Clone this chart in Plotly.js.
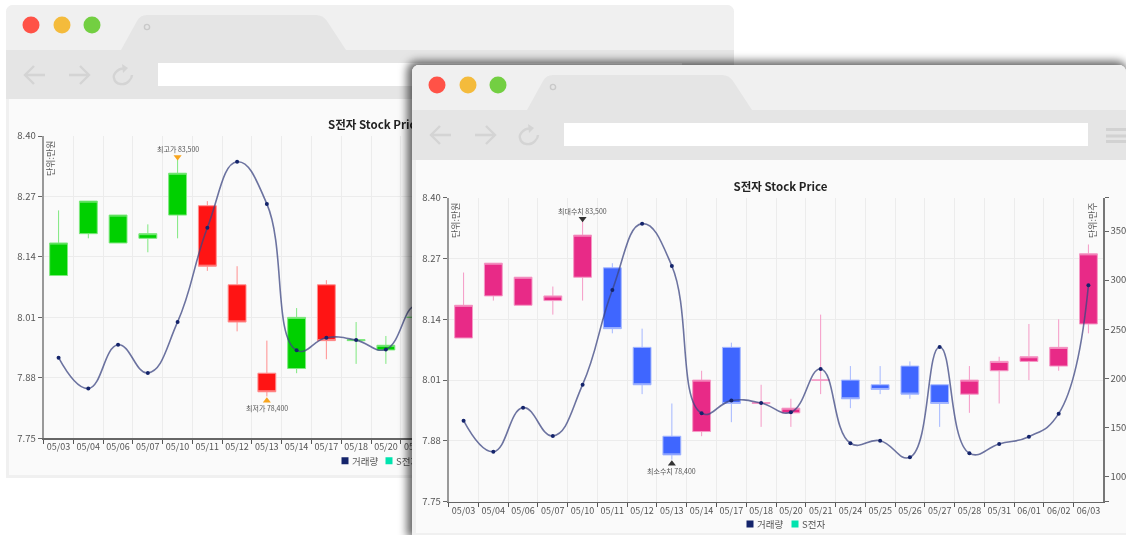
<!DOCTYPE html>
<html>
<head>
<meta charset="utf-8">
<script src="https://cdn.plot.ly/plotly-3.0.1.min.js"></script>
<style>
html,body{margin:0;padding:0;background:#fff;width:1126px;height:535px;overflow:hidden}
#back,#front{position:absolute;overflow:hidden;border-radius:7px 7px 0 0;filter:blur(0.35px)}
#back{left:6px;top:5px;width:728px;height:473px}
#front{left:412px;top:65px;width:714px;height:470px;box-shadow:-2px -1px 9px 3px rgba(0,0,0,.6)}
</style>
</head>
<body>
<div id="back"></div>
<div id="front"></div>
<script>
const categories=['05/03','05/04','05/06','05/07','05/10','05/11','05/12','05/13','05/14','05/17','05/18','05/20','05/21','05/24','05/25','05/26','05/27','05/28','05/31','06/01','06/02','06/03'];
const openPrice =[8.10,8.19,8.17,8.18,8.23,8.25,8.08,7.89,7.90,8.08,7.96,7.94,8.01,8.01,8.00,8.04,8.00,7.98,8.03,8.05,8.04,8.13];
const closePrice=[8.17,8.26,8.23,8.19,8.32,8.12,8.00,7.85,8.01,7.96,7.962,7.95,8.01,7.97,7.99,7.98,7.96,8.01,8.05,8.06,8.08,8.28];
const highPrice =[8.24,8.26,8.23,8.21,8.35,8.26,8.12,7.96,8.03,8.09,8.00,7.97,8.15,8.04,8.04,8.05,8.00,8.04,8.06,8.13,8.14,8.30];
const lowPrice  =[8.10,8.18,8.17,8.15,8.18,8.11,7.98,7.84,7.89,7.92,7.91,7.91,7.98,7.95,7.98,7.97,7.91,7.94,7.96,8.01,8.03,8.11];
const volume=[1570,1254,1702,1414,1936,2900,3575,3144,1645,1774,1750,1655,2096,1340,1366,1197,2320,1238,1333,1407,1641,2948];
const priceTicks=[7.75,7.88,8.01,8.14,8.27,8.40];
const priceRange=[7.75,8.40];
const volumeRange=[745,3839];
const volumeTicks=[745,1000,1500,2000,2500,3000,3500,3839];
const volumeTickText=['','1000','1500','2000','2500','3000','3500',''];
const peak={x:'05/10',mark:8.355,label:8.372,value:'83,500'};
const trough={x:'05/13',mark:7.831,label:7.815,value:'78,400'};

const FONT='"Noto Sans CJK KR","Noto Sans",sans-serif';
const TXT='#555';

function chrome(W,H,c){
  const px=x=>x/W, py=y=>1-y/H;
  const fillRect=(x0,y0,x1,y1,col)=>({type:'rect',xref:'paper',yref:'paper',layer:'below',x0:px(x0),x1:px(x1),y0:py(y0),y1:py(y1),fillcolor:col,line:{width:0}});
  const circle=(cx,cy,r,col,lc,lw)=>({type:'circle',xref:'paper',yref:'paper',layer:'below',x0:px(cx-r),x1:px(cx+r),y0:py(cy+r),y1:py(cy-r),fillcolor:col,line:{color:lc||col,width:lw||0}});
  const path=(pts,col,lw,fill)=>({type:'path',xref:'paper',yref:'paper',layer:'below',
     path:pts.map(p=>typeof p==='string'?p:px(p[0])+','+py(p[1])).join(' '),
     fillcolor:fill||'rgba(0,0,0,0)',line:{color:col,width:lw}});
  const s=[];
  s.push(fillRect(0,0,W,c.barH,'#f0f0f0'));
  s.push(fillRect(0,c.barH,W,c.toolB,'#e5e5e5'));
  s.push(fillRect(c.cL,c.toolB,W-(c.cR||0),c.cB,'#fafafa'));
  // tab
  s.push(path(['M',[115,c.barH],'L',[131,16],'Q',[134,10],[141,10],'L',[310,10],'Q',[317,10],[321,16],'L',[340,c.barH],'Z'],'#e5e5e5',0,'#e5e5e5'));
  s.push(circle(141,c.tabDotY,2.6,'#e5e5e5','#c9c9c9',1.4));
  // traffic lights
  s.push(circle(25,20,8.5,'#ff5247'));
  s.push(circle(56,20,8.5,'#f4bb3c'));
  s.push(circle(86,20,8.5,'#73cf42'));
  // back / forward / reload
  const g='#d4d4d4',y=70;
  s.push(path(['M',[19,y],'L',[39,y],'M',[28,y-9],'L',[19,y],'L',[28,y+9]],g,2.4));
  s.push(path(['M',[63,y],'L',[83,y],'M',[74,y-9],'L',[83,y],'L',[74,y+9]],g,2.4));
  s.push(path(['M',[119,y-6.5],'C',[110,y-7],[107,y+1],[108,y+3],'C',[109,y+10],[119,y+11],[123,y+6],'C',[125,y+4],[126,y+2],[126,y]],g,2.4));
  s.push(path(['M',[116,y-11],'L',[122,y-7],'L',[117,y-2],'Z'],g,0,g));
  // url bar
  s.push(fillRect(152,58,676,81,'#ffffff'));
  // menu
  if(c.menu){[63,69.5,75].forEach(t=>s.push(fillRect(694,t,716,t+3,'#d2d2d2')));}
  // legend squares
  s.push(fillRect(c.lg1-3.5,c.lgY-3.5,c.lg1+3.5,c.lgY+3.5,'#14246b'));
  s.push(fillRect(c.lg2-3.5,c.lgY-3.5,c.lg2+3.5,c.lgY+3.5,'#00e3ae'));
  return s;
}

function draw(id,W,H,c){
  const px=x=>x/W, py=y=>1-y/H;
  const ydom=[py(c.pB),py(c.pT)];
  const traces=[
   {type:'candlestick',x:categories,open:openPrice,high:highPrice,low:lowPrice,close:closePrice,xaxis:'x',yaxis:'y',whiskerwidth:0,
    increasing:{line:{color:c.upLine,width:1},fillcolor:c.up},
    decreasing:{line:{color:c.downLine,width:1},fillcolor:c.down},showlegend:false,hoverinfo:'skip'},
   {type:'scatter',mode:'lines+markers',name:'거래량',x:categories,y:volume,xaxis:'x',yaxis:'y2',
    line:{shape:'spline',smoothing:1.3,color:'rgba(60,70,130,.75)',width:1.6},
    marker:{size:4,color:'#14246b'},showlegend:false,hoverinfo:'skip'},
   {type:'scatter',mode:'markers',x:[peak.x],y:[peak.mark],xaxis:'x',yaxis:'y',
    marker:{symbol:'triangle-down',size:7,color:c.tri},showlegend:false,hoverinfo:'skip'},
   {type:'scatter',mode:'markers',x:[trough.x],y:[trough.mark],xaxis:'x',yaxis:'y',
    marker:{symbol:'triangle-up',size:7,color:c.tri},showlegend:false,hoverinfo:'skip'}
  ];
  const note=(text,xr,yr,x,y,extra)=>Object.assign({text,xref:xr,yref:yr,x,y,showarrow:false,xanchor:'center',yanchor:'middle',font:{family:FONT,size:9.5,color:TXT}},extra||{});
  const annos=[
    note(c.hiText+' '+peak.value,'x','y',peak.x,peak.label,{font:{family:FONT,size:7,color:'#555'}}),
    note(c.loText+' '+trough.value,'x','y',trough.x,trough.label,{font:{family:FONT,size:7,color:'#555'}}),
    note('단위:만원','paper','paper',px(c.unitL),py(c.unitY),{textangle:-90,font:{family:FONT,size:9,color:TXT}}),
    note('단위:만주','paper','paper',px(c.unitR),py(c.unitY),{textangle:-90,font:{family:FONT,size:9,color:TXT}}),
    note('거래량','paper','paper',px(c.lg1+5),py(c.lgY),{xanchor:'left'}),
    note('S전자','paper','paper',px(c.lg2+5),py(c.lgY),{xanchor:'left'})
  ];
  const layout={
    width:W,height:H,margin:{l:0,r:0,t:0,b:0,pad:0},
    paper_bgcolor:'#f0f0f0',plot_bgcolor:'rgba(0,0,0,0)',
    font:{family:FONT,size:9,color:TXT},showlegend:false,boxgap:0.4,boxgroupgap:0,
    title:{text:'<b>S전자 Stock Price</b>',x:px(c.titleX),y:py(c.titleY),xanchor:'center',yanchor:'middle',xref:'paper',
           font:{family:FONT,size:11.5,color:'#222'}},
    xaxis:{type:'category',domain:[px(c.pL),px(c.pR)],anchor:'y',range:[-0.5,categories.length-0.5],categoryorder:'array',categoryarray:categories,
      tickson:'boundaries',ticks:'outside',ticklen:4,tickcolor:'#555',tickwidth:1,showline:true,linecolor:'#666',linewidth:1.2,
      showgrid:true,gridcolor:'#ececec',gridwidth:1,rangeslider:{visible:false},tickfont:{family:FONT,size:9,color:TXT},fixedrange:true,tickangle:0,automargin:false},
    yaxis:{domain:ydom,anchor:'x',range:priceRange,tickmode:'array',tickvals:priceTicks,ticktext:priceTicks.map(v=>v.toFixed(2)),
      ticks:'outside',ticklen:4,tickcolor:'#666',showline:true,linecolor:'#999',linewidth:2,showgrid:true,gridcolor:'#ececec',zeroline:false,
      tickfont:{family:FONT,size:9.5,color:TXT},fixedrange:true,automargin:false},
    yaxis2:{overlaying:'y',side:'right',anchor:'x',range:volumeRange,tickmode:'array',tickvals:volumeTicks,ticktext:volumeTickText,
      ticks:'outside',ticklen:4,tickcolor:'#666',showline:true,linecolor:'#777',linewidth:1.2,showgrid:false,zeroline:false,
      tickfont:{family:FONT,size:9.5,color:TXT},fixedrange:true,automargin:false},
    shapes:chrome(W,H,c),annotations:annos
  };
  Plotly.newPlot(id,traces,layout,{staticPlot:true,displayModeBar:false});
}

draw('back',728,473,{
  barH:45,toolB:94,cL:3,cB:470,cR:3,tabDotY:22,menu:true,
  pL:37.7,pR:692.3,pT:131,pB:433.3,
  up:'#00d000',upLine:'#7fe87f',down:'#ff1414',downLine:'#ff8f8f',tri:'#f7a41d',
  hiText:'최고가',loText:'최저가',titleX:369,titleY:120,
  unitL:44,unitR:677,unitY:153,lg1:339,lg2:383,lgY:455.7
});
draw('front',714,470,{
  barH:45,toolB:95,cL:4,cB:468,tabDotY:22,menu:true,
  pL:36.7,pR:691.3,pT:132.7,pB:436.7,
  up:'#e82a87',upLine:'#f59ac6',down:'#3f66ff',downLine:'#a5b8ff',tri:'#333333',
  hiText:'최대수치',loText:'최소수치',titleX:368.5,titleY:122,
  unitL:43,unitR:680,unitY:155,lg1:338,lg2:383,lgY:459
});
</script>
</body>
</html>
